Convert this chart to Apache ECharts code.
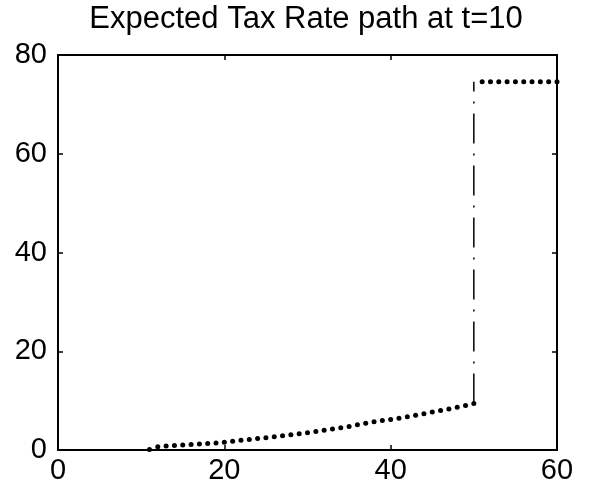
<!DOCTYPE html>
<html><head><meta charset="utf-8">
<script src="https://cdn.jsdelivr.net/npm/echarts@6/dist/echarts.min.js"></script>
<style>html,body{margin:0;padding:0;background:#fff}#c{width:593px;height:489px}</style>
</head><body><div id="c"></div>
<script>
const chartTitle = 'Expected Tax Rate path at t=10';
const xMin = 0, xMax = 60, xStep = 20;
const yMin = 0, yMax = 80, yStep = 20;
const lowerT = [11,12,13,14,15,16,17,18,19,20,21,22,23,24,25,26,27,28,29,30,31,32,33,34,35,36,37,38,39,40,41,42,43,44,45,46,47,48,49,50];
const lowerRate = [0.1,0.65,0.8,0.9,1.0,1.1,1.2,1.3,1.42,1.56,1.75,1.95,2.15,2.35,2.5,2.7,2.9,3.1,3.3,3.5,3.75,4.0,4.25,4.5,4.75,5.1,5.4,5.7,5.95,6.2,6.45,6.75,7.05,7.35,7.7,8.0,8.3,8.65,9.0,9.4];
const upperT = [51,52,53,54,55,56,57,58,59,60];
const upperRate = [74.6,74.6,74.6,74.6,74.6,74.6,74.6,74.6,74.6,74.6];
const jumpT = 50;

const FONT = "'Liberation Sans', Arial, Helvetica, sans-serif";
const chart = echarts.init(document.getElementById('c'), null, {renderer: 'canvas'});

function mkAxis(pos, showLabel, min, max, step, margin) {
  return {
    type: 'value', position: pos, min: min, max: max, interval: step,
    axisLine: {show: true, onZero: false, lineStyle: {color: '#000', width: 2}},
    axisTick: {show: true, inside: true, length: 5, lineStyle: {color: '#000', width: 1.5}},
    axisLabel: {show: showLabel, color: '#000', fontSize: 29, fontFamily: FONT, margin: margin},
    splitLine: {show: false}
  };
}

chart.setOption({
  animation: false,
  backgroundColor: '#fff',
  graphic: [{
    type: 'text', x: 306, y: 4,
    style: {text: chartTitle, fill: '#000', font: '31px ' + FONT, textAlign: 'center', textVerticalAlign: 'top'}
  }],
  grid: {left: 58, right: 36, top: 55, bottom: 39, containLabel: false},
  xAxis: [
    mkAxis('bottom', true, xMin, xMax, xStep, 6),
    mkAxis('top', false, xMin, xMax, xStep, 6)
  ],
  yAxis: [
    mkAxis('left', true, yMin, yMax, yStep, 11),
    mkAxis('right', false, yMin, yMax, yStep, 11)
  ],
  series: [
    {
      type: 'scatter', symbol: 'circle', symbolSize: 5,
      itemStyle: {color: '#000', opacity: 1}, silent: true,
      data: lowerT.map((t, i) => [t, lowerRate[i]])
    },
    {
      type: 'scatter', symbol: 'circle', symbolSize: 5,
      itemStyle: {color: '#000', opacity: 1}, silent: true,
      data: upperT.map((t, i) => [t, upperRate[i]])
    },
    {
      type: 'line', symbol: 'none', silent: true,
      lineStyle: {color: '#000', width: 1.5, type: [30, 10, 2, 10]},
      data: [[jumpT, lowerRate[lowerRate.length - 1]], [jumpT, upperRate[0]]]
    }
  ]
});
</script>
</body></html>
